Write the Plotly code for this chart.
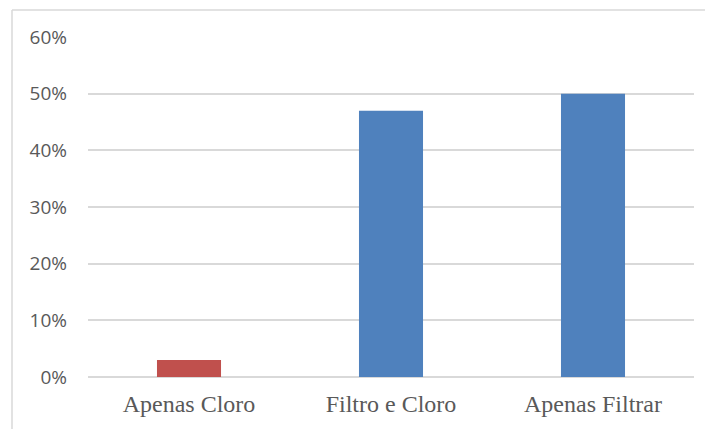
import plotly.graph_objects as go

categories = ["Apenas Cloro", "Filtro e Cloro", "Apenas Filtrar"]
values = [0.03, 0.47, 0.50]
bar_colors = ["#c0504d", "#4f81bd", "#4f81bd"]
y_ticks = [0, 0.1, 0.2, 0.3, 0.4, 0.5, 0.6]
y_tick_labels = ["0%", "10%", "20%", "30%", "40%", "50%", "60%"]

W, H = 705, 429
ml, mr, mt, mb = 88, 11, 37, 52
pw, ph = W - ml - mr, H - mt - mb

fig = go.Figure(
    go.Bar(
        x=categories,
        y=values,
        marker=dict(color=bar_colors, line=dict(width=0)),
        width=0.317,
        hoverinfo="x+y",
    )
)

# chart frame: left and top edges only
def px_x(px):
    return (px - ml) / pw

def px_y(py):
    return (H - mb - py) / ph

frame = dict(color="#d9d9d9", width=1.5)
fig.add_shape(type="line", xref="paper", yref="paper",
              x0=px_x(12), x1=px_x(12), y0=px_y(10), y1=px_y(H + 5), line=frame)
fig.add_shape(type="line", xref="paper", yref="paper",
              x0=px_x(12), x1=px_x(W + 5), y0=px_y(10), y1=px_y(10), line=frame)

fig.update_layout(
    width=W,
    height=H,
    margin=dict(l=ml, r=mr, t=mt, b=mb, pad=0),
    paper_bgcolor="white",
    plot_bgcolor="white",
    showlegend=False,
    bargap=0.683,
    xaxis=dict(
        showgrid=False,
        showline=False,
        ticks="",
        ticklabelstandoff=10,
        tickfont=dict(family="Liberation Serif", size=24, color="#595959"),
    ),
    yaxis=dict(
        range=[0, 0.6],
        tickvals=y_ticks,
        ticktext=y_tick_labels,
        showgrid=True,
        gridcolor="#d9d9d9",
        gridwidth=1.5,
        zeroline=True,
        zerolinecolor="#d9d9d9",
        zerolinewidth=1.5,
        showline=False,
        ticks="",
        ticklabelstandoff=20,
        tickfont=dict(family="Open Sans", size=19, color="#595959"),
    ),
)

fig.write_html("out.html")
